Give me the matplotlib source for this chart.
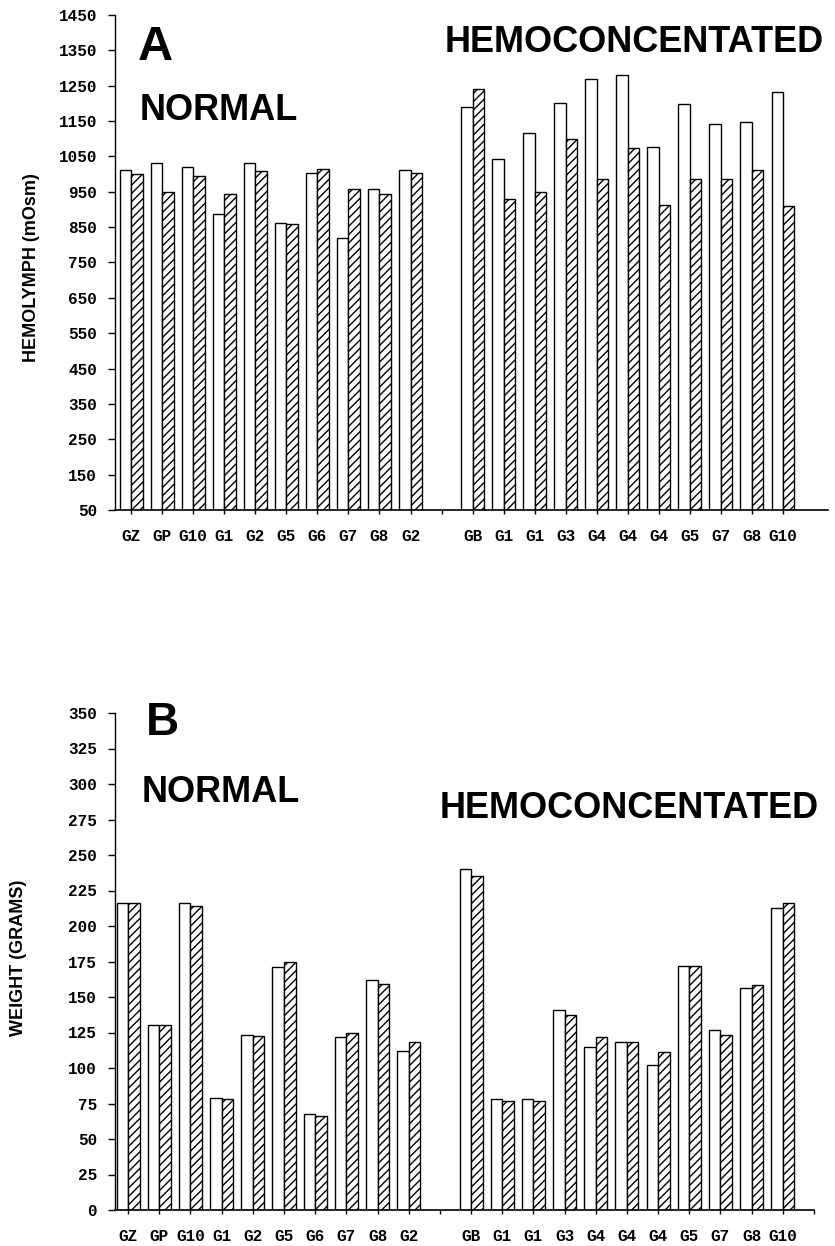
"""
Figura com dois painéis de barras: osmolalidade da hemolinfa (A) e
peso (B) em animais normais e hemoconcentrados.
"""

import matplotlib
matplotlib.use("Agg")
import matplotlib.pyplot as plt


# ---------------------------------------------------------------------
# 1. Dados
# ---------------------------------------------------------------------

ROTULOS_NORMAL = ["GZ", "GP", "G10", "G1", "G2", "G5", "G6", "G7", "G8", "G2"]
ROTULOS_HEMO = ["GB", "G1", "G1", "G3", "G4", "G4", "G4", "G5", "G7", "G8", "G10"]

# Painel A — hemolinfa (mOsm)
HEMO_NORMAL_BRANCO = [1012, 1031, 1019, 887, 1031, 863, 1003, 820, 959, 1012]
HEMO_NORMAL_TRACO = [1000, 948, 996, 945, 1010, 859, 1014, 959, 945, 1002]
HEMO_CONC_BRANCO = [1189, 1044, 1115, 1200, 1269, 1281, 1078, 1199, 1141, 1148, 1232]
HEMO_CONC_TRACO = [1240, 929, 948, 1098, 986, 1073, 912, 986, 986, 1013, 909]

# Painel B — peso (gramas)
PESO_NORMAL_BRANCO = [216, 130, 216, 79, 123, 171, 67.5, 122, 162, 112]
PESO_NORMAL_TRACO = [216.5, 130, 214, 78.5, 122.5, 175, 66, 124.5, 159.5, 118.5]
PESO_CONC_BRANCO = [240, 78.5, 78.5, 141, 114.5, 118.5, 102, 171.5, 127, 156, 212.5]
PESO_CONC_TRACO = [235, 76.5, 76.5, 137.5, 122, 118, 111.5, 172, 123.5, 158.5, 216]

TICKS_A = list(range(50, 1451, 100))
TICKS_B = list(range(0, 351, 25))


# ---------------------------------------------------------------------
# 2. Funções auxiliares
# ---------------------------------------------------------------------

LARGURA_FIG = 835
ALTURA_FIG = 1246
LARGURA_BARRA = 0.37
FONTE_TICKS = {"family": "Liberation Mono", "weight": "bold", "size": 11.5}
FONTE_TITULO = ["Liberation Sans", "DejaVu Sans"]


def fx(x):
    return x / LARGURA_FIG


def fy(y):
    return 1 - y / ALTURA_FIG


def desenhar_barras(ax, branco, traco, n_normal):
    """
    Barra branca à esquerda do tick, barra tracejada à direita.
    Os grupos normais ocupam 0..n-1, fica uma posição vazia e depois
    seguem os hemoconcentrados.
    """
    n_hemo = len(branco) - n_normal
    posicoes = list(range(n_normal)) + list(range(n_normal + 1, n_normal + 1 + n_hemo))

    ax.bar(
        [p - LARGURA_BARRA for p in posicoes], branco,
        width=LARGURA_BARRA, align="edge",
        color="white", edgecolor="black", linewidth=1.0,
    )
    ax.bar(
        posicoes, traco,
        width=LARGURA_BARRA, align="edge",
        color="white", edgecolor="black", linewidth=1.0, hatch="////",
    )


def formatar_eixo(ax, rotulos, n_normal, ticks_y, extra_tick=False):
    for lado in ["top", "right"]:
        ax.spines[lado].set_visible(False)
    ax.spines["left"].set_linewidth(1.0)
    ax.spines["bottom"].set_linewidth(1.2)

    pos_ticks = list(range(len(rotulos) + 1))
    etiquetas = rotulos[:n_normal] + [""] + rotulos[n_normal:]
    if extra_tick:
        pos_ticks.append(len(rotulos) + 1)
        etiquetas.append("")

    ax.set_xticks(pos_ticks)
    ax.set_xticklabels(etiquetas, fontdict=FONTE_TICKS)
    ax.set_yticks(ticks_y)
    ax.set_yticklabels([str(t) for t in ticks_y], fontdict=FONTE_TICKS)

    ax.tick_params(axis="y", direction="out", length=5, width=1.0, pad=8)
    ax.tick_params(axis="x", direction="out", length=3, width=1.0, pad=11)


# ---------------------------------------------------------------------
# 3. Figura
# ---------------------------------------------------------------------

plt.rcParams["hatch.linewidth"] = 1.0

fig = plt.figure(figsize=(LARGURA_FIG / 100, ALTURA_FIG / 100), dpi=100)

# Painel A — hemolinfa
ax_a = fig.add_axes([fx(115), fy(510), fx(828) - fx(115), fy(15) - fy(510)])
desenhar_barras(
    ax_a,
    HEMO_NORMAL_BRANCO + HEMO_CONC_BRANCO,
    HEMO_NORMAL_TRACO + HEMO_CONC_TRACO,
    len(ROTULOS_NORMAL),
)
ax_a.set_xlim(-0.52, 22.45)
ax_a.set_ylim(50, 1450)
formatar_eixo(ax_a, ROTULOS_NORMAL + ROTULOS_HEMO, len(ROTULOS_NORMAL), TICKS_A)

# Painel B — peso
ax_b = fig.add_axes([fx(115), fy(1210), fx(814) - fx(115), fy(713) - fy(1210)])
desenhar_barras(
    ax_b,
    PESO_NORMAL_BRANCO + PESO_CONC_BRANCO,
    PESO_NORMAL_TRACO + PESO_CONC_TRACO,
    len(ROTULOS_NORMAL),
)
ax_b.set_xlim(-0.42, 22.0)
ax_b.set_ylim(0, 350)
formatar_eixo(ax_b, ROTULOS_NORMAL + ROTULOS_HEMO, len(ROTULOS_NORMAL), TICKS_B,
              extra_tick=True)


# ---------------------------------------------------------------------
# 4. Textos
# ---------------------------------------------------------------------

def texto(x, y, s, tamanho):
    fig.text(fx(x), fy(y), s, fontsize=tamanho, fontweight="bold",
             family=FONTE_TITULO, va="baseline", ha="left")


texto(138, 60, "A", 35)
texto(140, 120, "NORMAL", 26)
texto(445, 52, "HEMOCONCENTATED", 26)

texto(146, 735, "B", 33)
texto(142, 802, "NORMAL", 26)
texto(440, 818, "HEMOCONCENTATED", 26)

fig.text(fx(32), fy(268), "HEMOLYMPH (mOsm)", rotation=90, fontsize=13,
         fontweight="bold", family=FONTE_TITULO, ha="center", va="center")
fig.text(fx(19), fy(958), "WEIGHT (GRAMS)", rotation=90, fontsize=13,
         fontweight="bold", family=FONTE_TITULO, ha="center", va="center")

fig.savefig("out.png", dpi=100)
